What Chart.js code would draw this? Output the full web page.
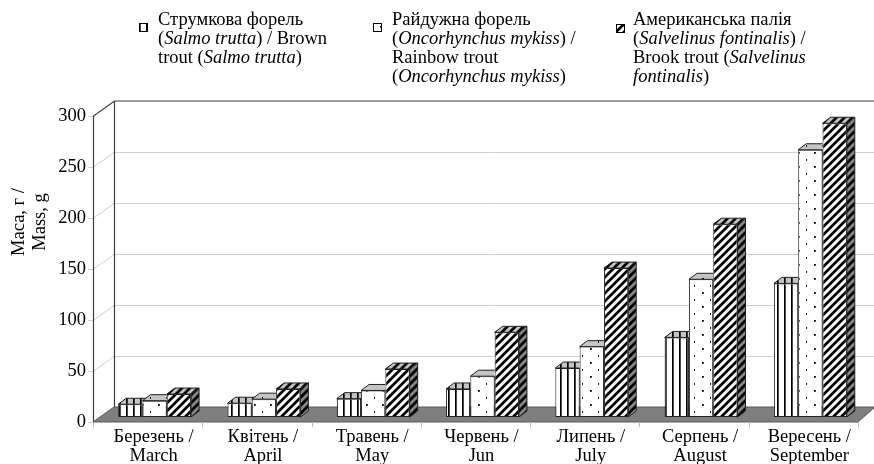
<!DOCTYPE html>
<html>
<head>
<meta charset="utf-8">
<script src="https://cdn.jsdelivr.net/npm/chart.js@4/dist/chart.umd.min.js"></script>
<style>
  html, body { margin: 0; padding: 0; background: #fff; }
  #wrap { position: relative; width: 874px; height: 464px; overflow: hidden; background: #fff; }
  #c { position: absolute; left: 0; top: 0; }
  .lg { position: absolute; font-family: 'Liberation Serif', 'Times New Roman', serif; font-size: 18.5px;
        line-height: 19px; color: #000; white-space: nowrap; }
  .sw { position: absolute; }
</style>
</head>
<body>
<div id="wrap">
  <canvas id="c" width="874" height="464"></canvas>
</div>
<script>
// ---- data ----
const months = [
  ['Березень /', 'March'],
  ['Квітень /', 'April'],
  ['Травень /', 'May'],
  ['Червень /', 'Jun'],
  ['Липень /', 'July'],
  ['Серпень /', 'August'],
  ['Вересень /', 'September']
];
const brownTrout   = [12.5, 13.5, 18, 27.5, 48, 78, 131];
const rainbowTrout = [16, 17.5, 26, 40, 69, 135, 262];
const brookTrout   = [22.5, 27.5, 47, 83, 146, 189, 288];
const yTicks = [0, 50, 100, 150, 200, 250, 300];
const axisTitle = ['Маса, г /', 'Mass, g'];

// legend text, one entry per series, already broken into lines
const brownName = ['Струмкова форель', '(<i>Salmo trutta</i>) / Brown', 'trout (<i>Salmo trutta</i>)'];
const rainbowName = ['Райдужна форель', '(<i>Oncorhynchus mykiss</i>) /', 'Rainbow trout', '(<i>Oncorhynchus mykiss</i>)'];
const brookName = ['Американська палія', '(<i>Salvelinus fontinalis</i>) /', 'Brook trout (<i>Salvelinus</i>', '<i>fontinalis</i>)'];

// ---- 3D geometry (pixels) ----
const WALL = { dx: 21, dy: -15 };   // depth of the floor / back wall
const SHIFT = { dx: 7, dy: -5 };    // bars stand a little behind the front edge
const DEPTH = { dx: 8, dy: -6 };    // thickness of each bar
const FONT_PX = 18.5;

// ---- fill patterns ----
function makePattern(kind, bg, fg) {
  const c = document.createElement('canvas');
  const g = c.getContext('2d');
  if (kind === 'vert') {
    c.width = 7; c.height = 7;
    g.fillStyle = bg; g.fillRect(0, 0, 7, 7);
    g.fillStyle = fg; g.fillRect(0, 0, 1.7, 7);
  } else if (kind === 'dots') {
    c.width = 16; c.height = 14;
    g.fillStyle = bg; g.fillRect(0, 0, 16, 14);
    g.fillStyle = fg;
    g.fillRect(7, 3, 1.8, 1.8);
    g.fillRect(15, 10, 1.8, 1.8);
  } else {
    c.width = 8; c.height = 8;
    g.fillStyle = bg; g.fillRect(0, 0, 8, 8);
    g.strokeStyle = fg; g.lineWidth = 2.7; g.lineCap = 'square';
    g.beginPath();
    g.moveTo(-2, 10); g.lineTo(10, -2);
    g.moveTo(-2, 2); g.lineTo(2, -2);
    g.moveTo(6, 10); g.lineTo(10, 6);
    g.stroke();
  }
  return g.createPattern(c, 'repeat');
}
const kinds = ['vert', 'dots', 'diag'];
const frontFill = kinds.map(k => makePattern(k, '#ffffff', '#000000'));
const topFill = kinds.map(k => makePattern(k, '#c4c4c4', '#000000'));
const sideFill = kinds.map(k => makePattern(k, '#858585', '#000000'));

// ---- legend ----
const wrap = document.getElementById('wrap');
const legendPos = [
  { sx: 139, sy: 23, tx: 158, ty: 10, lines: brownName },
  { sx: 373, sy: 23, tx: 392, ty: 10, lines: rainbowName },
  { sx: 616, sy: 24, tx: 633, ty: 10, lines: brookName }
];
legendPos.forEach((p, i) => {
  const sw = document.createElement('canvas');
  sw.width = 9; sw.height = 9; sw.className = 'sw';
  sw.style.left = p.sx + 'px'; sw.style.top = p.sy + 'px';
  const g = sw.getContext('2d');
  g.fillStyle = frontFill[i]; g.fillRect(0, 0, 9, 9);
  g.strokeStyle = '#000'; g.lineWidth = 1; g.strokeRect(0.5, 0.5, 8, 8);
  wrap.appendChild(sw);
  const t = document.createElement('div');
  t.className = 'lg';
  t.style.left = p.tx + 'px'; t.style.top = p.ty + 'px';
  t.innerHTML = p.lines.join('<br>');
  wrap.appendChild(t);
});

// ---- walls, floor, grid and bar faces ----
const box3d = {
  id: 'box3d',
  beforeDatasetsDraw(chart) {
    const { ctx, chartArea: a, scales: { x, y } } = chart;
    const W = chart.width + 30;
    ctx.save();
    // gridlines on the left wall and back wall
    ctx.strokeStyle = '#cfcfcf'; ctx.lineWidth = 1;
    yTicks.forEach(v => {
      if (v === yTicks[0] || v === yTicks[yTicks.length - 1]) return;
      const py = Math.round(y.getPixelForValue(v)) + 0.5;
      ctx.beginPath();
      ctx.moveTo(a.left - 5, py);
      ctx.lineTo(a.left, py);
      ctx.lineTo(a.left + WALL.dx, py + WALL.dy);
      ctx.lineTo(W, py + WALL.dy);
      ctx.stroke();
    });
    // tick at zero and top
    [yTicks[0], yTicks[yTicks.length - 1]].forEach(v => {
      const py = Math.round(y.getPixelForValue(v)) + 0.5;
      ctx.beginPath(); ctx.moveTo(a.left - 5, py); ctx.lineTo(a.left, py); ctx.stroke();
    });
    // floor
    const fb = y.getPixelForValue(0);
    ctx.beginPath();
    ctx.moveTo(a.left, fb);
    ctx.lineTo(a.left + WALL.dx, fb + WALL.dy);
    ctx.lineTo(a.right + WALL.dx - 4, fb + WALL.dy);
    ctx.lineTo(a.right, fb);
    ctx.closePath();
    ctx.fillStyle = '#7f7f7f'; ctx.fill();
    ctx.strokeStyle = '#5a5a5a'; ctx.stroke();
    // category ticks under the floor
    ctx.strokeStyle = '#bdbdbd';
    for (let i = 0; i <= months.length; i++) {
      const px = Math.round(a.left + (a.right - a.left) * i / months.length) + 0.5;
      ctx.beginPath(); ctx.moveTo(px, fb); ctx.lineTo(px, fb + 5); ctx.stroke();
    }
    // wall edges
    const ft = y.getPixelForValue(yTicks[yTicks.length - 1]);
    ctx.strokeStyle = '#3c3c3c'; ctx.lineWidth = 1.2;
    ctx.beginPath();
    ctx.moveTo(a.left + 0.5, fb);
    ctx.lineTo(a.left + 0.5, ft);
    ctx.lineTo(a.left + WALL.dx + 0.5, ft + WALL.dy);
    ctx.lineTo(W, ft + WALL.dy);
    ctx.moveTo(a.left + WALL.dx + 0.5, ft + WALL.dy);
    ctx.lineTo(a.left + WALL.dx + 0.5, fb + WALL.dy);
    ctx.stroke();
    // axis title
    ctx.fillStyle = '#000';
    ctx.font = FONT_PX + "px 'Liberation Serif'";
    ctx.textAlign = 'center'; ctx.textBaseline = 'middle';
    ctx.translate(0, 222);
    ctx.rotate(-Math.PI / 2);
    ctx.fillText(axisTitle[0], 0, 19);
    ctx.fillText(axisTitle[1], 0, 40);
    ctx.restore();
    // bars sit slightly behind the front edge
    ctx.save();
    ctx.translate(SHIFT.dx, SHIFT.dy);
  },
  afterDatasetsDraw(chart) {
    const { ctx } = chart;
    const metas = chart.data.datasets.map((d, i) => chart.getDatasetMeta(i));
    ctx.strokeStyle = '#222'; ctx.lineWidth = 1;
    for (let i = 0; i < months.length; i++) {
      for (let d = 0; d < metas.length; d++) {
        const b = metas[d].data[i].getProps(['x', 'y', 'base', 'width'], true);
        const l = b.x - b.width / 2, r = b.x + b.width / 2;
        ctx.save();
        if (d + 1 < metas.length) {
          // keep the faces behind the neighbouring bar hidden
          const n = metas[d + 1].data[i].getProps(['x', 'y', 'base', 'width'], true);
          ctx.beginPath();
          ctx.rect(-100, -100, chart.width + 200, chart.height + 200);
          ctx.rect(n.x - n.width / 2, n.y, n.width, n.base - n.y);
          ctx.clip('evenodd');
        }
        ctx.beginPath();
        ctx.moveTo(l, b.y); ctx.lineTo(l + DEPTH.dx, b.y + DEPTH.dy);
        ctx.lineTo(r + DEPTH.dx, b.y + DEPTH.dy); ctx.lineTo(r, b.y); ctx.closePath();
        ctx.fillStyle = topFill[d]; ctx.fill(); ctx.stroke();
        ctx.beginPath();
        ctx.moveTo(r, b.y); ctx.lineTo(r + DEPTH.dx, b.y + DEPTH.dy);
        ctx.lineTo(r + DEPTH.dx, b.base + DEPTH.dy); ctx.lineTo(r, b.base); ctx.closePath();
        ctx.fillStyle = sideFill[d]; ctx.fill(); ctx.stroke();
        ctx.restore();
      }
    }
    ctx.restore();
  }
};

Chart.defaults.font.family = "'Liberation Serif', 'Times New Roman', serif";
Chart.defaults.color = '#000';

new Chart(document.getElementById('c'), {
  type: 'bar',
  data: {
    labels: months,
    datasets: [
      { label: 'Струмкова форель / Brown trout', data: brownTrout, backgroundColor: frontFill[0] },
      { label: 'Райдужна форель / Rainbow trout', data: rainbowTrout, backgroundColor: frontFill[1] },
      { label: 'Американська палія / Brook trout', data: brookTrout, backgroundColor: frontFill[2] }
    ].map(ds => Object.assign(ds, {
      borderColor: '#222', borderWidth: 1, borderSkipped: false,
      categoryPercentage: 0.667, barPercentage: 1.0, clip: false
    }))
  },
  options: {
    responsive: false,
    animation: false,
    devicePixelRatio: 1,
    events: [],
    layout: { padding: { left: 0, right: 16, top: 116, bottom: 0 } },
    plugins: { legend: { display: false }, tooltip: { enabled: false }, title: { display: false } },
    scales: {
      x: {
        grid: { display: false, drawTicks: false },
        border: { display: false },
        ticks: { font: { size: FONT_PX, lineHeight: 1.05 }, color: '#000', padding: 5, maxRotation: 0, autoSkip: false, labelOffset: 6 },
        afterFit(s) { s.height = 42; }
      },
      y: {
        min: yTicks[0], max: yTicks[yTicks.length - 1],
        afterBuildTicks(s) { s.ticks = yTicks.map(v => ({ value: v })); },
        grid: { display: false, drawTicks: false },
        border: { display: false },
        ticks: { font: { size: FONT_PX }, color: '#000', padding: 7 },
        afterFit(s) { s.width = 93; }
      }
    }
  },
  plugins: [box3d]
});
</script>
</body>
</html>
